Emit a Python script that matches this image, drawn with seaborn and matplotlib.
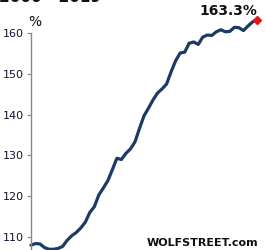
import matplotlib
matplotlib.use("Agg")
import matplotlib.pyplot as plt
import seaborn as sns
import pandas as pd

period = list(range(51))
pct = [108.0, 108.4, 108.3, 107.4, 107.0, 107.0, 107.2, 107.7, 109.2, 110.3,
       111.1, 112.2, 113.6, 116.0, 117.4, 120.3, 122.0, 123.8, 126.5, 129.3,
       129.0, 130.5, 131.6, 133.3, 136.6, 139.7, 141.6, 143.6, 145.3, 146.3,
       147.5, 150.5, 153.2, 155.1, 155.3, 157.5, 157.8, 157.2, 159.0, 159.5,
       159.4, 160.3, 160.8, 160.3, 160.4, 161.4, 161.3, 160.6, 161.7, 162.7,
       163.3]
yticks = [110, 120, 130, 140, 150, 160]
last_label = "163.3%"

df = pd.DataFrame({"period": period, "pct": pct})

sns.set_style("white")
plt.rcParams['font.family'] = ['DejaVu Sans']

W, H = 266, 250
fig = plt.figure(figsize=(W / 100, H / 100), dpi=100)
ax_left = 31 / W
ax_w = (262 - 31) / W
ax_top_px = 33
ax_h_px = 60 * 4.08
ax = fig.add_axes([ax_left, (H - ax_top_px - ax_h_px) / H, ax_w, ax_h_px / H])

sns.lineplot(data=df, x="period", y="pct", ax=ax, color="#1c3a63",
             linewidth=2.3, clip_on=False)
ax.plot([period[-1]], [pct[-1]], marker="D", color="#ee1111", markersize=4.5,
        clip_on=False, zorder=5)

ax.set_xlim(0, 50 * (231 / 226))
ax.set_ylim(100, 160)
ax.set_yticks(yticks)
ax.set_yticklabels([str(t) for t in yticks], fontsize=8, color="#111133")
ax.tick_params(axis="y", direction="out", length=3, width=0.8, color="#888888", pad=2, left=True)
ax.set_xticks([])
ax.set_xlabel("")
ax.set_ylabel("")
for s in ["top", "right", "bottom"]:
    ax.spines[s].set_visible(False)
ax.spines["left"].set_color("#888888")
ax.spines["left"].set_linewidth(1.0)

fig.text(28 / W, 1 - 26 / H, "%", fontsize=10, color="#111111", va="baseline")
fig.text(257 / W, 1 - 15 / H, last_label, fontsize=10, fontweight="bold",
         color="#111111", ha="right", va="baseline")
fig.text(258 / W, 1 - 246 / H, "WOLFSTREET.com", fontsize=8, fontweight="bold",
         color="#111111", ha="right", va="baseline")
fig.text(-1 / W, 1 - 1.5 / H, "2000 - 2019", fontsize=11, fontweight="bold",
         color="#111111", ha="left", va="baseline")

fig.savefig("out.png", dpi=100)
